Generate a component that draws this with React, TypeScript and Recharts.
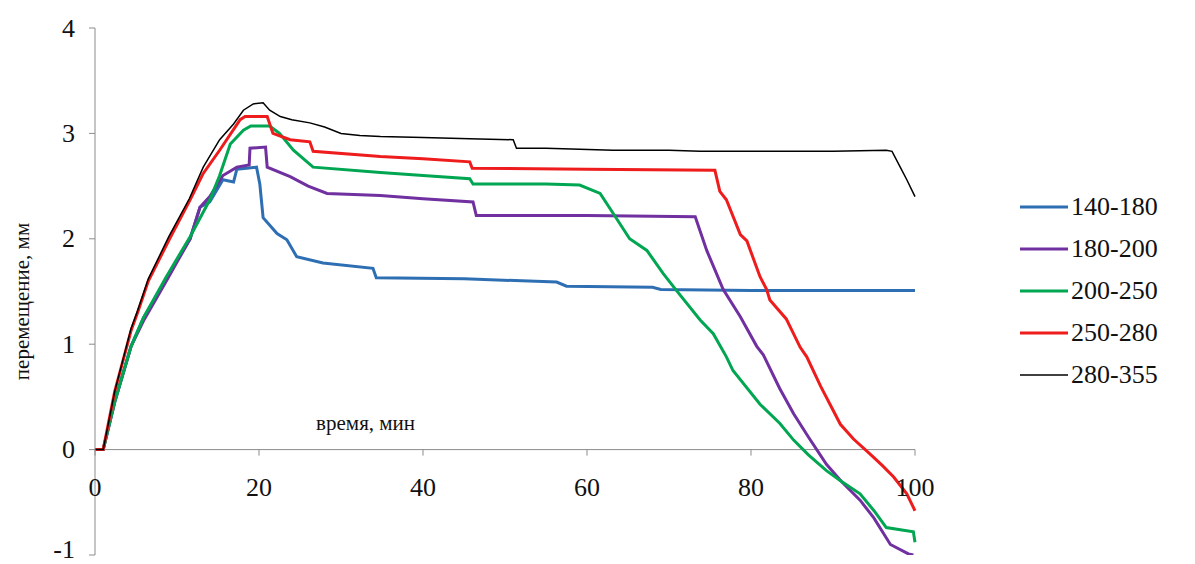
import { LineChart, Line, XAxis, YAxis, ReferenceLine, ReferenceDot } from "recharts";

// время (мин), перемещение (мм)
const s140_180 = [
  [0, 0], [1, 0], [2.4, 0.45], [4.4, 0.98], [5.9, 1.25], [8.7, 1.62], [11.6, 2.0], [12.8, 2.3],
  [14, 2.35], [15.6, 2.56], [16.9, 2.54], [17.3, 2.66], [19.7, 2.68], [20.1, 2.52], [20.5, 2.2],
  [22.2, 2.05], [23.4, 1.99], [24.6, 1.83], [27.8, 1.77], [33.9, 1.72], [34.3, 1.63], [45, 1.62],
  [56.3, 1.59], [57.5, 1.55], [68, 1.54], [69, 1.52], [80, 1.51], [90, 1.51], [100, 1.51],
];

const s180_200 = [
  [0, 0], [1, 0], [2.4, 0.45], [4.4, 0.98], [5.9, 1.22], [8.7, 1.6], [11.6, 2.0], [12.8, 2.3],
  [14, 2.4], [15.6, 2.6], [17.3, 2.68], [18.8, 2.7], [18.9, 2.86], [20.8, 2.87], [21, 2.68],
  [23.8, 2.59], [26, 2.5], [28.3, 2.43], [34.8, 2.41], [40, 2.38], [46.1, 2.35], [46.5, 2.22],
  [60, 2.22], [73.2, 2.21], [74.6, 1.89], [76.6, 1.52], [78.7, 1.26], [80.7, 0.98], [81.5, 0.9],
  [83.5, 0.58], [85.2, 0.34], [87, 0.12], [89.2, -0.14], [91, -0.3], [93.3, -0.48], [95, -0.65],
  [97, -0.9], [99.2, -0.99], [99.8, -1.0],
];

const s200_250 = [
  [0, 0], [1, 0], [2.4, 0.45], [4.4, 0.98], [5.9, 1.25], [8.7, 1.64], [11.6, 2.02], [14, 2.37],
  [15.2, 2.6], [16.5, 2.9], [18.1, 3.03], [19, 3.07], [21.3, 3.07], [22.5, 3.0], [24.2, 2.84],
  [26.6, 2.68], [34.8, 2.63], [40, 2.6], [45.7, 2.57], [46.1, 2.52], [55, 2.52], [59.1, 2.51],
  [61.6, 2.43], [63.2, 2.24], [65.2, 2.0], [67.3, 1.89], [69.3, 1.67], [70.9, 1.51], [73.8, 1.23],
  [75.4, 1.1], [77, 0.88], [77.8, 0.75], [81.1, 0.43], [83.5, 0.25], [85.2, 0.09], [87, -0.05],
  [89.2, -0.2], [91, -0.3], [93.3, -0.42], [95, -0.58], [96.5, -0.74], [99.8, -0.78], [100, -0.88],
];

const s250_280 = [
  [0, 0], [1, 0], [2.4, 0.55], [4.4, 1.13], [5.2, 1.3], [6.5, 1.6], [9.1, 2.0], [11.6, 2.37],
  [13.2, 2.62], [15.2, 2.84], [17.7, 3.13], [18.3, 3.16], [21, 3.16], [21.7, 3.0], [23.8, 2.94],
  [26.2, 2.92], [26.6, 2.83], [34.8, 2.78], [40, 2.76], [45.7, 2.73], [46, 2.67], [60, 2.66],
  [75.6, 2.65], [76.2, 2.45], [77, 2.37], [78.7, 2.04], [79.5, 1.98], [81.1, 1.64], [81.9, 1.52],
  [82.3, 1.42], [84.3, 1.24], [86, 0.97], [86.8, 0.88], [88.5, 0.6], [90.9, 0.24], [92.5, 0.1],
  [94.5, -0.04], [96, -0.15], [97.4, -0.26], [99, -0.42], [100, -0.58],
];

const s280_355 = [
  [0, 0], [1, 0], [2.4, 0.55], [4.4, 1.15], [5.2, 1.32], [6.5, 1.62], [9, 2.02], [11.5, 2.38],
  [13.2, 2.68], [15.2, 2.94], [16.9, 3.09], [18.1, 3.22], [19.3, 3.28], [20.5, 3.29], [21.3, 3.22],
  [22.6, 3.16], [24, 3.13], [26.2, 3.1], [28, 3.06], [30, 3.0], [32.3, 2.98], [34.8, 2.97],
  [40, 2.96], [45.7, 2.95], [51, 2.94], [51.4, 2.86], [55, 2.86], [63.2, 2.84], [70, 2.84],
  [73.8, 2.83], [80, 2.83], [90, 2.83], [96.5, 2.84], [97.2, 2.83], [98.2, 2.68], [99, 2.56],
  [100, 2.4],
];

const xTicks = [0, 20, 40, 60, 80, 100];
const yTicks = [-1, 0, 1, 2, 3, 4];

const series = [
  { name: "140-180", points: s140_180, color: "#2e6fb3", width: 3 },
  { name: "180-200", points: s180_200, color: "#7030a0", width: 3 },
  { name: "200-250", points: s200_250, color: "#00a651", width: 3 },
  { name: "250-280", points: s250_280, color: "#ee1c1c", width: 3 },
  { name: "280-355", points: s280_355, color: "#000000", width: 1.5 },
];

const toRows = (pts: number[][]) => pts.map(([t, v]) => ({ t, v }));

const FONT = "'Liberation Serif', serif";

// y tick label; the lowest one is nudged up so it stays inside the picture
const YTick = (props: any) => {
  const { x, y, payload } = props;
  const lift = payload.value === yTicks[0] ? -6 : 0;
  return (
    <text x={x} y={y + lift} textAnchor="end" dominantBaseline="central"
      fontSize={26} fontFamily={FONT} fill="#111">
      {payload.value}
    </text>
  );
};

export default function App() {
  return (
    <div style={{ position: "absolute", left: 0, top: 0, width: 1195, height: 564, background: "#fff", fontFamily: FONT }}>
      <LineChart width={1195} height={564} margin={{ top: 28, right: 280, bottom: 9, left: 0 }}>
        <XAxis type="number" dataKey="t" domain={[0, 100]} ticks={xTicks} hide />
        <YAxis
          type="number"
          domain={[-1, 4]}
          ticks={yTicks}
          interval={0}
          width={95}
          allowDataOverflow
          axisLine={{ stroke: "#8c8c8c" }}
          tickLine={{ stroke: "#8c8c8c" }}
          tickSize={6}
          tickMargin={14}
          tick={YTick}
          label={(props: any) => {
            const vb = props.viewBox;
            const cx = vb.x + 22;
            const cy = vb.y + vb.height / 2 + 10;
            return (
              <text x={cx} y={cy} transform={`rotate(-90 ${cx} ${cy})`} textAnchor="middle"
                dominantBaseline="central" fontSize={21} fontFamily={FONT} fill="#111">
                перемещение, мм
              </text>
            );
          }}
        />
        <ReferenceLine y={0} stroke="#8c8c8c" strokeWidth={1} />
        {xTicks.map((t) => (
          <ReferenceDot
            key={t}
            x={t}
            y={0}
            r={0}
            shape={(p: any) => (
              <g>
                <line x1={p.cx} y1={p.cy} x2={p.cx} y2={p.cy + 6} stroke="#8c8c8c" />
                <text x={p.cx} y={p.cy + 38} textAnchor="middle" dominantBaseline="central"
                  fontSize={26} fontFamily={FONT} fill="#111">
                  {t}
                </text>
              </g>
            )}
          />
        ))}
        <ReferenceDot
          x={33}
          y={0.25}
          r={0}
          shape={(p: any) => (
            <text x={p.cx} y={p.cy} textAnchor="middle" dominantBaseline="central"
              fontSize={21} fontFamily={FONT} fill="#111">
              время, мин
            </text>
          )}
        />
        {series.map((s) => (
          <Line
            key={s.name}
            name={s.name}
            data={toRows(s.points)}
            dataKey="v"
            type="linear"
            stroke={s.color}
            strokeWidth={s.width}
            dot={false}
            isAnimationActive={false}
          />
        ))}
      </LineChart>
      <div style={{ position: "absolute", left: 1018, top: 186 }}>
        {series.map((s) => (
          <div key={s.name} style={{ display: "flex", alignItems: "center", height: 42 }}>
            <svg width={50} height={10}>
              <line x1={2} y1={5} x2={50} y2={5} stroke={s.color} strokeWidth={s.width} />
            </svg>
            <span style={{ fontSize: 26, color: "#111", marginLeft: 3 }}>{s.name}</span>
          </div>
        ))}
      </div>
    </div>
  );
}
